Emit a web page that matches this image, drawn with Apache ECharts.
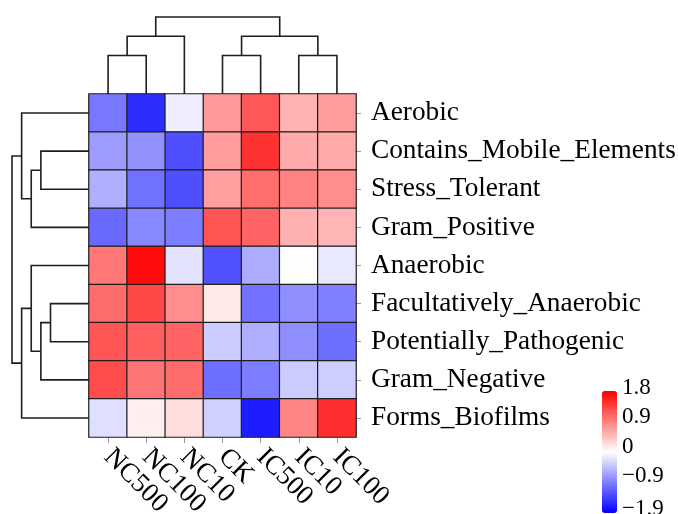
<!DOCTYPE html>
<html>
<head>
<meta charset="utf-8">
<script src="https://cdn.jsdelivr.net/npm/echarts@6/dist/echarts.min.js"></script>
<style>
  html, body { margin: 0; padding: 0; background: #fff; }
  #chart { width: 678px; height: 514px; }
</style>
</head>
<body>
<div id="chart"></div>
<script>
// Row-scaled functional trait abundance per treatment
const rowLabels = ['Aerobic', 'Contains_Mobile_Elements', 'Stress_Tolerant', 'Gram_Positive',
  'Anaerobic', 'Facultatively_Anaerobic', 'Potentially_Pathogenic', 'Gram_Negative', 'Forms_Biofilms'];
const colLabels = ['NC500', 'NC100', 'NC10', 'CK', 'IC500', 'IC10', 'IC100'];
const zScores = [
  [-1.03, -1.57, -0.17, 0.68, 1.16, 0.50, 0.67],
  [-0.77, -0.84, -1.33, 0.67, 1.44, 0.56, 0.56],
  [-0.63, -1.08, -1.33, 0.65, 1.01, 0.86, 0.78],
  [-1.14, -0.92, -0.99, 1.18, 1.08, 0.52, 0.49],
  [0.94, 1.71, -0.25, -1.31, -0.65, -0.06, -0.22],
  [1.02, 1.28, 0.78, 0.11, -1.07, -0.87, -0.97],
  [1.18, 1.11, 1.08, -0.42, -0.63, -0.87, -1.10],
  [1.24, 0.96, 1.02, -1.10, -0.99, -0.43, -0.41],
  [-0.28, 0.07, 0.20, -0.39, -1.69, 0.84, 1.46]
];
const legendTicks = [1.8, 0.9, 0, -0.9, -1.9];

// Clustering trees in hclust "merge" form: negative = leaf (1-based), positive = earlier step
const colMerge = [[-1, -2], [1, -3], [-4, -5], [-6, -7], [3, 4], [2, 5]];
const colHeight = [2, 3, 2, 2, 3, 4];
const rowMerge = [[-6, -7], [-2, -3], [1, -8], [2, -4], [-5, 3], [-1, 4], [5, -9], [6, 7]];
const rowHeight = [2, 2.5, 2.5, 3, 3, 3.5, 3.5, 4];

// Turn a merge table into U-shaped links: [pos1, h1, pos2, h2, h]
function buildLinks(merge, height) {
  const nodes = [];
  const ref = k => (k < 0 ? { pos: -k - 1, h: 0 } : nodes[k - 1]);
  return merge.map(([a, b], i) => {
    const A = ref(a), B = ref(b), h = height[i];
    nodes.push({ pos: (A.pos + B.pos) / 2, h: h });
    return [A.pos, A.h, B.pos, B.h, h];
  });
}

const heatData = [];
zScores.forEach((row, r) => row.forEach((v, c) => heatData.push([c, r, v])));

const FONT = 'Liberation Serif';
const LINE = '#1e1e1e';

const HM = { left: 89, top: 94, width: 267, height: 343 };

function treeItem(vertical) {
  return function (params, api) {
    const p1 = api.value(0), h1 = api.value(1), p2 = api.value(2), h2 = api.value(3), h = api.value(4);
    const pt = (p, hh) => vertical ? api.coord([p, hh]) : api.coord([hh, p]);
    return {
      type: 'polyline',
      shape: { points: [pt(p1, h1), pt(p1, h), pt(p2, h), pt(p2, h2)] },
      style: { stroke: LINE, lineWidth: 1.6, fill: null }
    };
  };
}

const fixed = { outerBoundsMode: 'none', containLabel: false };

const chart = echarts.init(document.getElementById('chart'), null, { renderer: 'canvas' });
chart.setOption({
  backgroundColor: '#fff',
  animation: false,
  grid: [
    Object.assign({ left: HM.left, top: HM.top, width: HM.width, height: HM.height }, fixed),
    Object.assign({ left: HM.left, top: 17, width: HM.width, height: HM.top - 17 }, fixed),
    Object.assign({ left: 12, top: HM.top, width: HM.left - 12, height: HM.height }, fixed),
    Object.assign({ left: 602, top: 388, width: 15, height: 121 }, fixed)
  ],
  xAxis: [
    {
      gridIndex: 0, type: 'category', data: colLabels, position: 'bottom',
      axisLine: { show: false },
      axisTick: { show: true, alignWithLabel: true, interval: 0, length: 6, lineStyle: { color: '#9a9a9a', width: 1 } },
      axisLabel: { interval: 0, rotate: -45, margin: 16, fontFamily: FONT, fontSize: 27, color: '#000' },
      splitLine: { show: false }
    },
    { gridIndex: 1, type: 'value', min: -0.5, max: colLabels.length - 0.5, show: false },
    { gridIndex: 2, type: 'value', min: 0, max: 4, inverse: true, show: false },
    { gridIndex: 3, type: 'value', show: false }
  ],
  yAxis: [
    {
      gridIndex: 0, type: 'category', data: rowLabels, inverse: true, position: 'right',
      axisLine: { show: false },
      axisTick: { show: true, alignWithLabel: true, interval: 0, length: 5, lineStyle: { color: '#9a9a9a', width: 1 } },
      axisLabel: { interval: 0, margin: 15, fontFamily: FONT, fontSize: 27.3, color: '#000' },
      splitLine: { show: false }
    },
    { gridIndex: 1, type: 'value', min: 0, max: 4, show: false },
    { gridIndex: 2, type: 'value', min: -0.5, max: rowLabels.length - 0.5, inverse: true, show: false },
    {
      gridIndex: 3, type: 'value', min: -1.9, max: 1.8, position: 'right',
      axisLine: { show: false }, axisTick: { show: false }, splitLine: { show: false },
      axisLabel: {
        customValues: legendTicks, margin: 5, fontFamily: FONT, fontSize: 23, color: '#000',
        formatter: v => String(v).replace('-', '\u2212')
      }
    }
  ],
  visualMap: {
    type: 'continuous', seriesIndex: 0, min: -1.9, max: 1.8,
    left: 602, top: 391, itemWidth: 15, itemHeight: 122, padding: 0,
    calculable: false, hoverLink: false, text: null,
    inRange: { color: ['#0000ff', '#ffffff', '#ff0000'] }
  },
  series: [
    {
      type: 'heatmap', xAxisIndex: 0, yAxisIndex: 0, data: heatData,
      itemStyle: { borderColor: LINE, borderWidth: 1.2 },
      emphasis: { disabled: true }
    },
    {
      type: 'custom', xAxisIndex: 1, yAxisIndex: 1, silent: true,
      data: buildLinks(colMerge, colHeight), renderItem: treeItem(true)
    },
    {
      type: 'custom', xAxisIndex: 2, yAxisIndex: 2, silent: true,
      data: buildLinks(rowMerge, rowHeight), renderItem: treeItem(false)
    }
  ]
});
</script>
</body>
</html>
